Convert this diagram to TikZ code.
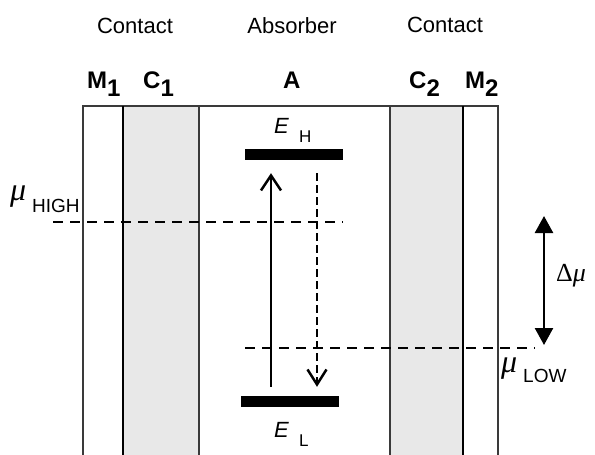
\documentclass[tikz,border=0pt]{standalone}
\usepackage{fontspec}
\setmainfont{Liberation Sans}
\newfontfamily\greekfont{Liberation Serif}
\usetikzlibrary{arrows.meta}

\definecolor{contactgrey}{HTML}{E8E8E8}
\definecolor{edgegrey}{HTML}{3A3A3A}

\tikzset{
  thinedge/.style={draw=edgegrey, line width=1.2pt},
  thickedge/.style={draw=black, line width=2.4pt},
  level/.style={fill=black, draw=none, minimum width=98pt, minimum height=11pt, inner sep=0pt},
  chemline/.style={line width=1.6pt, dash pattern=on 10pt off 7pt},
  excite/.style={line width=2.5pt, -{Straight Barb[length=15pt,width=20pt,line width=2.5pt]}},
  relax/.style={line width=2.5pt, dash pattern=on 8pt off 4pt, -{Straight Barb[length=15pt,width=19pt,line width=2.5pt]}},
  gap/.style={line width=2.5pt, {Triangle[length=17pt,width=18pt]}-{Triangle[length=17pt,width=18pt]}},
  heading/.style={font=\fontsize{22}{24}\selectfont, inner sep=0pt},
  layer/.style={font=\fontsize{24}{26}\selectfont\bfseries, inner sep=0pt, anchor=base west},
  txt/.style={inner sep=0pt, anchor=base west},
}

\newcommand{\sublow}[2]{#1\raisebox{-9pt}{#2}}

\begin{document}
\begin{tikzpicture}[x=1pt, y=-1pt]
  \useasboundingbox (0,0) rectangle (595,455);
  \fill[white] (0,0) rectangle (595,455);

  % shaded contact layers
  \fill[contactgrey] (123,106) rectangle (199,455);
  \fill[contactgrey] (390,106) rectangle (463,455);

  % layer boundaries
  \draw[thinedge] (83,455) -- (83,106) -- (498,106) -- (498,455);
  \draw[thinedge] (199,106) -- (199,455);
  \draw[thinedge] (390,106) -- (390,455);
  \draw[thickedge] (123,106) -- (123,455);
  \draw[thickedge] (463,106) -- (463,455);

  % headings
  \node[heading] (hc1) at (135,26) {Contact};
  \node[heading] (habs) at (292,26) {Absorber};
  \node[heading] (hc2) at (445,25) {Contact};

  % layer names
  \node[layer] (m1) at (87,88) {\sublow{M}{1}};
  \node[layer] (c1) at (143,88) {\sublow{C}{1}};
  \node[layer] (a) at (283,88) {A};
  \node[layer] (c2) at (409,88) {\sublow{C}{2}};
  \node[layer] (m2) at (465,88) {\sublow{M}{2}};

  % energy levels
  \node[level] (ehbar) at (294,154.5) {};
  \node[level] (elbar) at (290,401.5) {};
  \node[txt, font=\fontsize{22}{24}\selectfont\itshape] (eh) at (274,133) {E};
  \node[txt, font=\fontsize{17}{19}\selectfont] (ehs) at (299,142) {H};
  \node[txt, font=\fontsize{22}{24}\selectfont\itshape] (el) at (274,437) {E};
  \node[txt, font=\fontsize{17}{19}\selectfont] (els) at (299,446) {L};

  % quasi-Fermi levels
  \coordinate (hiL) at (53,222);
  \coordinate (hiR) at (343,222);
  \coordinate (loL) at (245,348);
  \coordinate (loR) at (535,348);
  \draw[chemline] (hiL) -- (hiR);
  \draw[chemline] (loL) -- (loR);
  \node[txt, font=\fontsize{32}{34}\selectfont\greekfont\itshape] (muh) at (10,200) {μ};
  \node[txt, font=\fontsize{19}{21}\selectfont] (muhs) at (32,212) {HIGH};
  \node[txt, font=\fontsize{32}{34}\selectfont\greekfont\itshape] (mul) at (501,372) {μ};
  \node[txt, font=\fontsize{19}{21}\selectfont] (muls) at (523,382) {LOW};

  % absorption and emission
  \draw[excite] ([xshift=-19pt,yshift=9pt]elbar.north) -- ([xshift=-23pt,yshift=-13pt]ehbar.south);
  \draw[relax] ([xshift=23pt,yshift=-13pt]ehbar.south) -- ([xshift=27pt,yshift=9pt]elbar.north);

  % chemical potential difference
  \coordinate (gtop) at (544,216);
  \coordinate (gbot) at (544,345);
  \draw[gap] (gtop) -- (gbot);
  \node[txt, font=\fontsize{26}{28}\selectfont\greekfont] (dmu) at (556,281) {Δ\textit{μ}};
\end{tikzpicture}
\end{document}
